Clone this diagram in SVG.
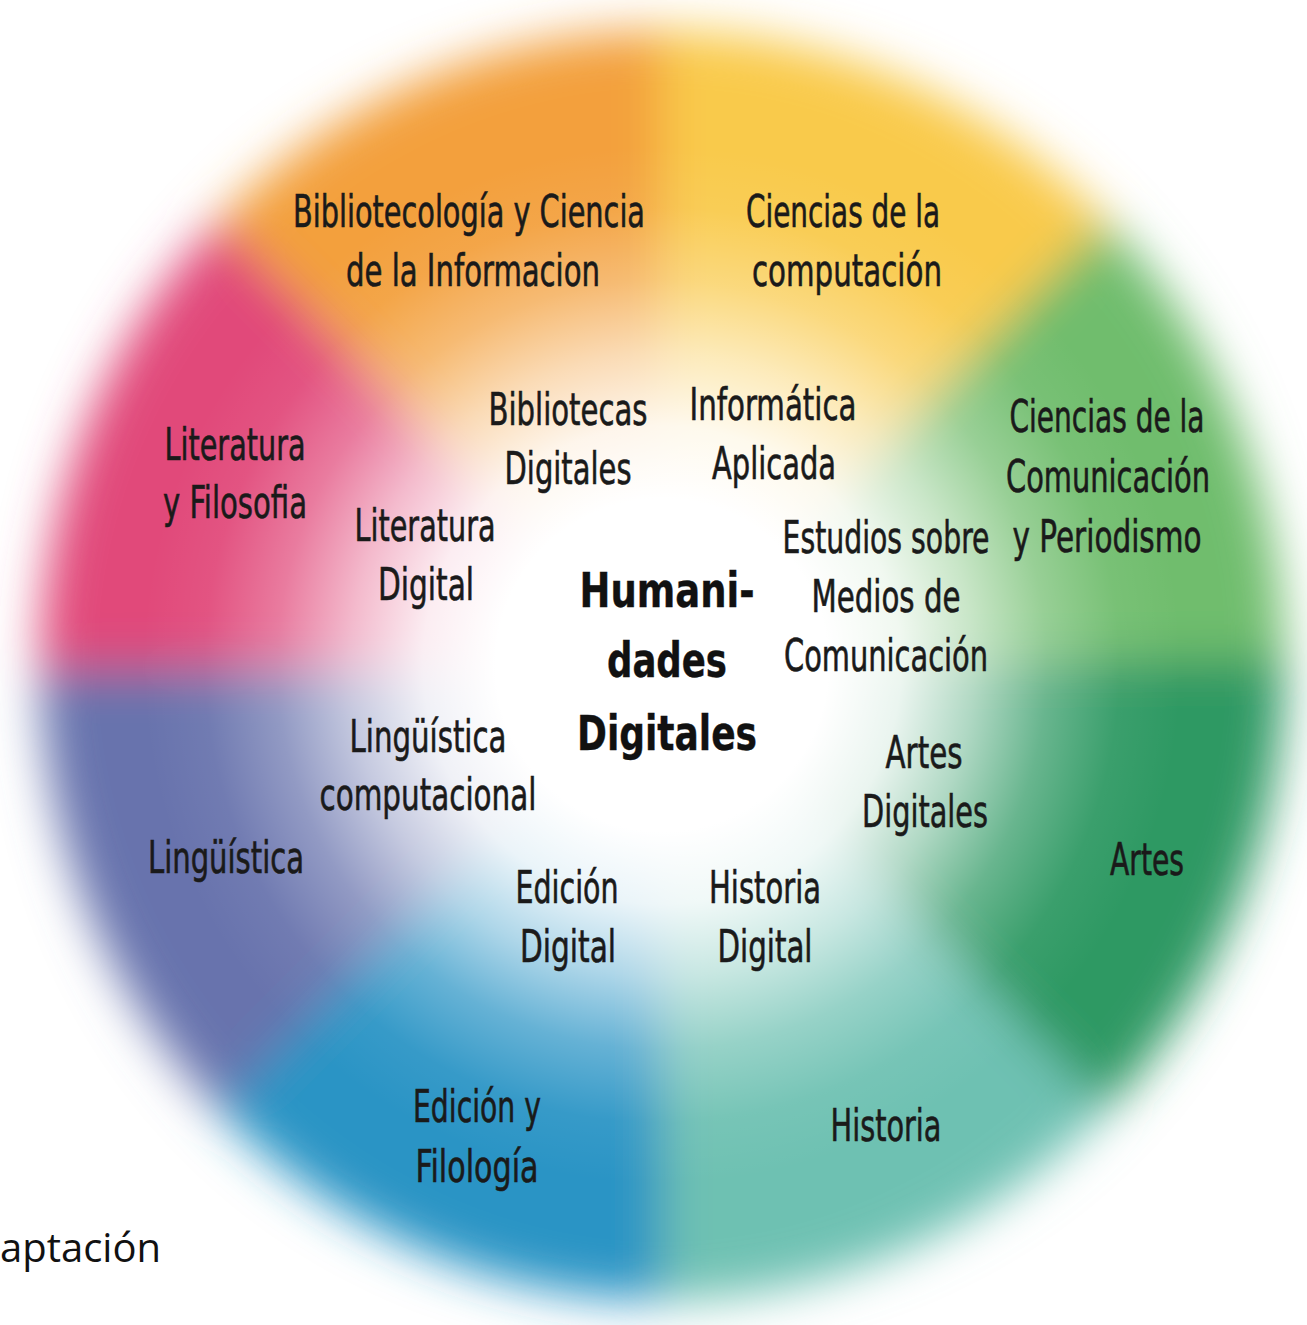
<svg xmlns="http://www.w3.org/2000/svg" width="1307" height="1325" viewBox="0 0 1307 1325">
<defs>
<style>
.t{font-family:"Liberation Sans Narrow","DejaVu Sans Condensed","Liberation Sans",sans-serif;font-size:44px;fill:#1a1a1a;stroke:#1a1a1a;stroke-width:0.6px;text-anchor:middle}
.b{font-weight:bold;font-size:48px;fill:#111;stroke:#111;stroke-width:0.4px}
.cap{font-family:"Open Sans","Noto Sans",sans-serif;font-size:40px;fill:#111}
</style>
<clipPath id="disc"><ellipse cx="662" cy="665" rx="622" ry="635"/></clipPath>
<filter id="soft" x="-10%" y="-10%" width="120%" height="120%"><feGaussianBlur stdDeviation="24"/></filter>
<radialGradient id="glow" cx="662" cy="665" r="520" gradientUnits="userSpaceOnUse">
<stop offset="0" stop-color="#fff" stop-opacity="1"/>
<stop offset="0.32" stop-color="#fff" stop-opacity="1"/>
<stop offset="0.46" stop-color="#fff" stop-opacity="0.9"/>
<stop offset="0.6" stop-color="#fff" stop-opacity="0.62"/>
<stop offset="0.74" stop-color="#fff" stop-opacity="0.28"/>
<stop offset="0.88" stop-color="#fff" stop-opacity="0.06"/>
<stop offset="1" stop-color="#fff" stop-opacity="0"/>
</radialGradient>
</defs>
<rect width="1307" height="1325" fill="#fff"/>
<g id="wheel" filter="url(#soft)">
<g clip-path="url(#disc)">
<path d="M662 665 L26 29 L662 -235 Z" fill="#F3A03D"/>
<path d="M662 665 L662 -235 L1298 29 Z" fill="#F9CA4C"/>
<path d="M662 665 L1298 29 L1562 655 Z" fill="#6FBD6D"/>
<path d="M662 665 L1562 655 L1298 1301 Z" fill="#2F9963"/>
<path d="M662 665 L1298 1301 L662 1565 Z" fill="#6EC1B2"/>
<path d="M662 665 L662 1565 L26 1301 Z" fill="#2A94C5"/>
<path d="M662 665 L26 1301 L-238 670 Z" fill="#6773AD"/>
<path d="M662 665 L-238 670 L26 29 Z" fill="#E14A7A"/>
</g>
</g>
<ellipse id="center-glow" cx="662" cy="665" rx="560" ry="560" fill="url(#glow)"/>
<g id="connectors"/>
<g id="n-biblioteconomia"><text class="t" x="469" y="227" textLength="352" lengthAdjust="spacingAndGlyphs">Bibliotecología y Ciencia</text><text class="t" x="473" y="286" textLength="254" lengthAdjust="spacingAndGlyphs">de la Informacion</text></g>
<g id="n-computacion"><text class="t" x="843" y="227" textLength="194" lengthAdjust="spacingAndGlyphs">Ciencias de la</text><text class="t" x="847" y="286" textLength="190" lengthAdjust="spacingAndGlyphs">computación</text></g>
<g id="n-literatura-filosofia"><text class="t" x="235" y="460" textLength="141" lengthAdjust="spacingAndGlyphs">Literatura</text><text class="t" x="235" y="518" textLength="144" lengthAdjust="spacingAndGlyphs">y Filosofia</text></g>
<g id="n-bibliotecas-digitales"><text class="t" x="568" y="425" textLength="159" lengthAdjust="spacingAndGlyphs">Bibliotecas</text><text class="t" x="568" y="484" textLength="127" lengthAdjust="spacingAndGlyphs">Digitales</text></g>
<g id="n-informatica-aplicada"><text class="t" x="773" y="420" textLength="167" lengthAdjust="spacingAndGlyphs">Informática</text><text class="t" x="774" y="479" textLength="124" lengthAdjust="spacingAndGlyphs">Aplicada</text></g>
<g id="n-comunicacion-periodismo"><text class="t" x="1107" y="432" textLength="195" lengthAdjust="spacingAndGlyphs">Ciencias de la</text><text class="t" x="1108" y="492" textLength="204" lengthAdjust="spacingAndGlyphs">Comunicación</text><text class="t" x="1107" y="552" textLength="189" lengthAdjust="spacingAndGlyphs">y Periodismo</text></g>
<g id="n-literatura-digital"><text class="t" x="425" y="541" textLength="141" lengthAdjust="spacingAndGlyphs">Literatura</text><text class="t" x="426" y="600" textLength="96" lengthAdjust="spacingAndGlyphs">Digital</text></g>
<g id="n-estudios-medios"><text class="t" x="886" y="553" textLength="207" lengthAdjust="spacingAndGlyphs">Estudios sobre</text><text class="t" x="886" y="612" textLength="149" lengthAdjust="spacingAndGlyphs">Medios de</text><text class="t" x="886" y="671" textLength="204" lengthAdjust="spacingAndGlyphs">Comunicación</text></g>
<g id="n-humanidades-digitales"><text class="t b" x="667" y="607" textLength="175" lengthAdjust="spacingAndGlyphs">Humani-</text><text class="t b" x="667" y="677" textLength="120" lengthAdjust="spacingAndGlyphs">dades</text><text class="t b" x="667" y="750" textLength="180" lengthAdjust="spacingAndGlyphs">Digitales</text></g>
<g id="n-linguistica-computacional"><text class="t" x="428" y="752" textLength="157" lengthAdjust="spacingAndGlyphs">Lingüística</text><text class="t" x="428" y="810" textLength="217" lengthAdjust="spacingAndGlyphs">computacional</text></g>
<g id="n-artes-digitales"><text class="t" x="924" y="768" textLength="77" lengthAdjust="spacingAndGlyphs">Artes</text><text class="t" x="925" y="827" textLength="126" lengthAdjust="spacingAndGlyphs">Digitales</text></g>
<g id="n-linguistica"><text class="t" x="226" y="873" textLength="156" lengthAdjust="spacingAndGlyphs">Lingüística</text></g>
<g id="n-artes"><text class="t" x="1147" y="875" textLength="74" lengthAdjust="spacingAndGlyphs">Artes</text></g>
<g id="n-edicion-digital"><text class="t" x="567" y="903" textLength="103" lengthAdjust="spacingAndGlyphs">Edición</text><text class="t" x="568" y="962" textLength="96" lengthAdjust="spacingAndGlyphs">Digital</text></g>
<g id="n-historia-digital"><text class="t" x="765" y="903" textLength="112" lengthAdjust="spacingAndGlyphs">Historia</text><text class="t" x="765" y="962" textLength="95" lengthAdjust="spacingAndGlyphs">Digital</text></g>
<g id="n-edicion-filologia"><text class="t" x="477" y="1122" textLength="128" lengthAdjust="spacingAndGlyphs">Edición y</text><text class="t" x="477" y="1182" textLength="123" lengthAdjust="spacingAndGlyphs">Filología</text></g>
<g id="n-historia"><text class="t" x="886" y="1141" textLength="111" lengthAdjust="spacingAndGlyphs">Historia</text></g>
<g id="caption"><text class="cap" x="0" y="1262">aptación</text></g>
</svg>
